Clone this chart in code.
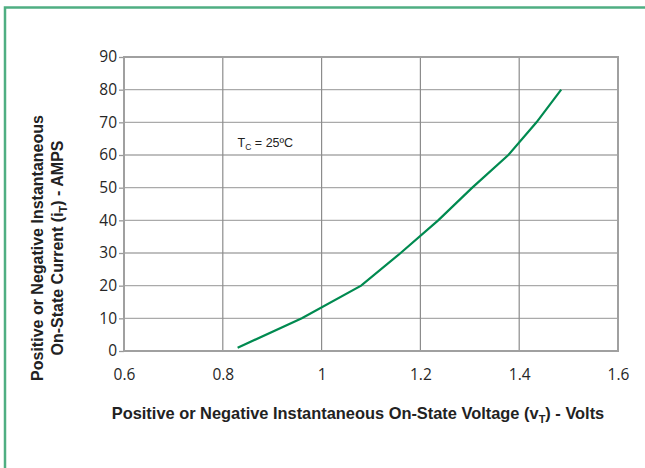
<!DOCTYPE html>
<html lang="en">
  <head>
    <meta charset="UTF-8" />
    <title>On-State Characteristics</title>
    <style>
      html,
      body {
        margin: 0;
        background: #fff;
      }
    </style>
    <script src="https://cdn.jsdelivr.net/npm/d3@7"></script>
  </head>

  <body>
    <script>
      const width = 645;
      const height = 468;

      // data
      const voltage = [0.83, 0.96, 1.08, 1.16, 1.236, 1.305, 1.378, 1.435, 1.485];
      const current = [1, 10, 20, 30, 40, 50, 60, 70, 80];
      const xTicks = [0.6, 0.8, 1, 1.2, 1.4, 1.6];
      const yTicks = [0, 10, 20, 30, 40, 50, 60, 70, 80, 90];

      const margin = { left: 124, right: 27, top: 57, bottom: 117 };

      const svg = d3
        .select("body")
        .append("svg")
        .attr("width", width)
        .attr("height", height);

      // green frame (top + left only)
      svg
        .append("path")
        .attr("d", `M5,${height} V7.5 H${width}`)
        .attr("fill", "none")
        .attr("stroke", "#4fae82")
        .attr("stroke-width", 2.5);

      const x = d3
        .scaleLinear()
        .domain([0.6, 1.6])
        .range([margin.left, width - margin.right]);
      const y = d3
        .scaleLinear()
        .domain([0, 90])
        .range([height - margin.bottom, margin.top]);

      // grid
      svg
        .append("g")
        .selectAll("line")
        .data(yTicks.slice(1))
        .join("line")
        .attr("x1", margin.left)
        .attr("x2", width - margin.right)
        .attr("y1", (d) => y(d))
        .attr("y2", (d) => y(d))
        .attr("stroke", "#aaa")
        .attr("stroke-width", 1.3);
      svg
        .append("g")
        .selectAll("line")
        .data(xTicks.slice(1))
        .join("line")
        .attr("x1", (d) => x(d))
        .attr("x2", (d) => x(d))
        .attr("y1", y(90))
        .attr("y2", y(0))
        .attr("stroke", "#8c8c8c")
        .attr("stroke-width", 1.2);

      // axes
      const yAxis = d3
        .axisLeft(y)
        .tickValues(yTicks)
        .tickSize(5)
        .tickPadding(2);
      const gy = svg
        .append("g")
        .attr("transform", `translate(${margin.left},0)`)
        .call(yAxis);
      gy.select(".domain").remove();
      gy.selectAll("line").attr("stroke", "#999").attr("stroke-width", 1.3);

      const xAxis = d3
        .axisBottom(x)
        .tickValues(xTicks)
        .tickSize(0)
        .tickPadding(18)
        .tickFormat(d3.format("~g"));
      const gx = svg
        .append("g")
        .attr("transform", `translate(0,${y(0)})`)
        .call(xAxis);
      gx.select(".domain").remove();

      [gx, gy].forEach((g) =>
        g
          .selectAll("text")
          .style("font-family", "'Open Sans', sans-serif")
          .style("font-size", "15.5px")
          .attr("fill", "#262626")
      );

      // plot frame
      svg
        .append("path")
        .attr(
          "d",
          `M${margin.left},${y(90)} H${x(1.6)} V${y(0)} H${margin.left} Z`
        )
        .attr("fill", "none")
        .attr("stroke", "#a0a0a0")
        .attr("stroke-width", 2);

      // curve
      const line = d3
        .line()
        .x((d, i) => x(voltage[i]))
        .y((d, i) => y(current[i]));
      svg
        .append("path")
        .datum(current)
        .attr("d", line)
        .attr("fill", "none")
        .attr("stroke", "#008a50")
        .attr("stroke-width", 2.2);

      // annotation
      const note = svg
        .append("text")
        .attr("x", x(0.83))
        .attr("y", y(62.6))
        .attr("font-family", "'Liberation Sans', Arial, sans-serif")
        .attr("font-size", 12.5)
        .attr("fill", "#222");
      note.append("tspan").text("T");
      note.append("tspan").attr("font-size", 8.5).attr("dy", 3).text("C");
      note.append("tspan").attr("dy", -3).text(" = 25ºC");

      // axis titles
      const font = "'Liberation Sans', Arial, sans-serif";
      const xt = svg
        .append("text")
        .attr("x", 358)
        .attr("y", 419)
        .attr("text-anchor", "middle")
        .attr("font-family", font)
        .attr("font-weight", "bold")
        .attr("font-size", 16.4)
        .attr("fill", "#222");
      xt.append("tspan").text("Positive or Negative Instantaneous On-State Voltage (v");
      xt.append("tspan").attr("font-size", 11).attr("dy", 4).text("T");
      xt.append("tspan").attr("dy", -4).text(") - Volts");

      const yt = svg
        .append("text")
        .attr("transform", "translate(0,248) rotate(-90)")
        .attr("text-anchor", "middle")
        .attr("font-family", font)
        .attr("font-weight", "bold")
        .attr("font-size", 16)
        .attr("fill", "#222");
      yt.append("tspan").attr("x", 0).attr("y", 43).text("Positive or Negative Instantaneous");
      yt.append("tspan").attr("x", 0).attr("y", 63).text("On-State Current (i");
      yt.append("tspan").attr("font-size", 11).attr("dy", 4).text("T");
      yt.append("tspan").attr("dy", -4).text(") - AMPS");
    </script>
  </body>
</html>
